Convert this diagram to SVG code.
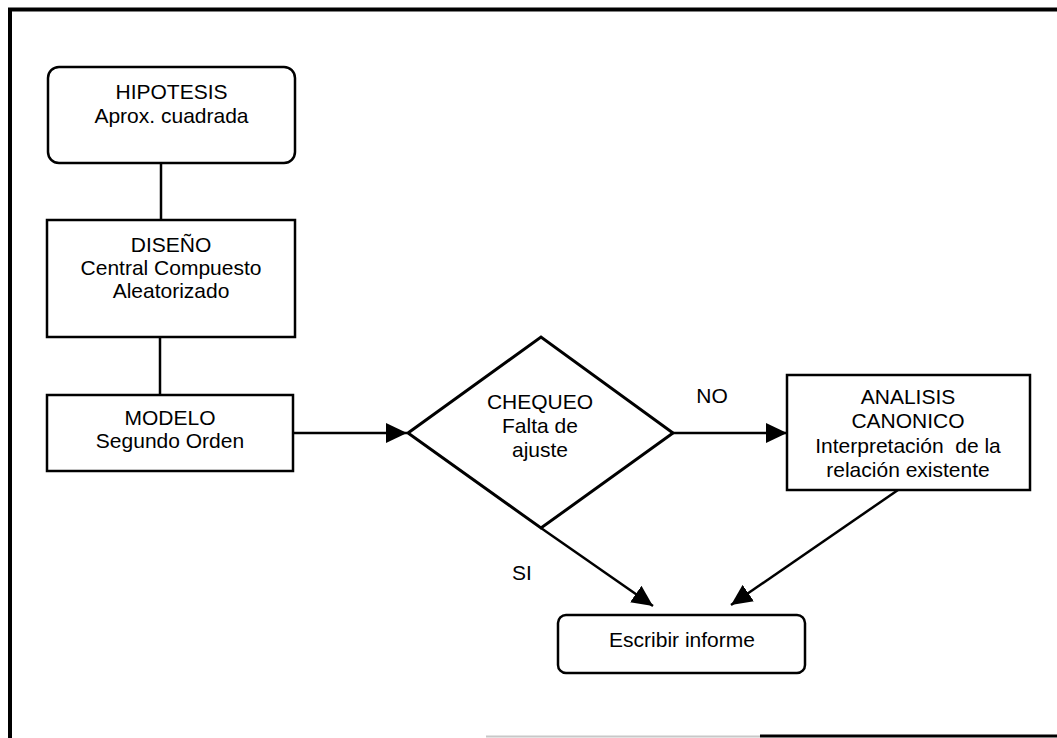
<svg xmlns="http://www.w3.org/2000/svg" width="1057" height="738" viewBox="0 0 1057 738">
  <defs>
    <marker id="arrow" markerUnits="userSpaceOnUse" markerWidth="22" markerHeight="20" refX="21" refY="10" orient="auto">
      <path d="M0,0 L21,10 L0,20 z" fill="#000"/>
    </marker>
  </defs>
  <style>
    .box { fill: #fff; stroke: #000; stroke-width: 2.5; }
    .dia { fill: #fff; stroke: #000; stroke-width: 3; }
    .edge { fill: none; stroke: #000; stroke-width: 2.5; }
    .lbl { font-family: "Liberation Sans", Arial, sans-serif; font-size: 21px; fill: #000; text-anchor: middle; }
    .frame { stroke: #000; stroke-width: 4; fill: none; }
  </style>

  <rect width="1057" height="738" fill="#fff"/>

  <!-- page frame -->
  <g id="frame">
    <line class="frame" x1="8" y1="9.5" x2="1057" y2="9.5"/>
    <line class="frame" x1="10" y1="8" x2="10" y2="738"/>
    <line x1="486" y1="736.5" x2="760" y2="736.5" stroke="#c8c8c8" stroke-width="2"/>
    <line x1="760" y1="736" x2="1057" y2="736" stroke="#000" stroke-width="3"/>
  </g>

  <!-- connectors -->
  <g id="connectors">
    <line class="edge" x1="161" y1="163" x2="161" y2="220"/>
    <line class="edge" x1="160" y1="337" x2="160" y2="395"/>
    <line class="edge" x1="293" y1="433" x2="407" y2="433" marker-end="url(#arrow)"/>
    <line class="edge" x1="673" y1="433" x2="787" y2="433" marker-end="url(#arrow)"/>
    <line class="edge" x1="541" y1="528" x2="653" y2="606" marker-end="url(#arrow)" stroke-width="3"/>
    <line class="edge" x1="898" y1="490" x2="731" y2="605" marker-end="url(#arrow)"/>
    <text class="lbl" x="712" y="403">NO</text>
    <text class="lbl" x="522" y="580">SI</text>
  </g>

  <g id="hipotesis">
    <rect class="box" x="48" y="67" width="247" height="96" rx="11"/>
    <text class="lbl" x="171.5" y="99">HIPOTESIS</text>
    <text class="lbl" x="171.5" y="123">Aprox. cuadrada</text>
  </g>

  <g id="diseno">
    <rect class="box" x="47" y="220" width="248" height="117"/>
    <text class="lbl" x="171" y="252">DISEÑO</text>
    <text class="lbl" x="171" y="275">Central Compuesto</text>
    <text class="lbl" x="171" y="298">Aleatorizado</text>
  </g>

  <g id="modelo">
    <rect class="box" x="47" y="395" width="246" height="76"/>
    <text class="lbl" x="170" y="425">MODELO</text>
    <text class="lbl" x="170" y="448">Segundo Orden</text>
  </g>

  <g id="chequeo">
    <polygon class="dia" points="408,433 541,337 673,433 541,528"/>
    <text class="lbl" x="540" y="409">CHEQUEO</text>
    <text class="lbl" x="540" y="433">Falta de</text>
    <text class="lbl" x="540" y="457">ajuste</text>
  </g>

  <g id="analisis">
    <rect class="box" x="787" y="375" width="243" height="115"/>
    <text class="lbl" x="908" y="404">ANALISIS</text>
    <text class="lbl" x="908" y="428">CANONICO</text>
    <text class="lbl" x="908" y="453" xml:space="preserve">Interpretación  de la</text>
    <text class="lbl" x="908" y="477">relación existente</text>
  </g>

  <g id="informe">
    <rect class="box" x="558" y="615" width="247" height="58" rx="8"/>
    <text class="lbl" x="682" y="647">Escribir informe</text>
  </g>
</svg>
